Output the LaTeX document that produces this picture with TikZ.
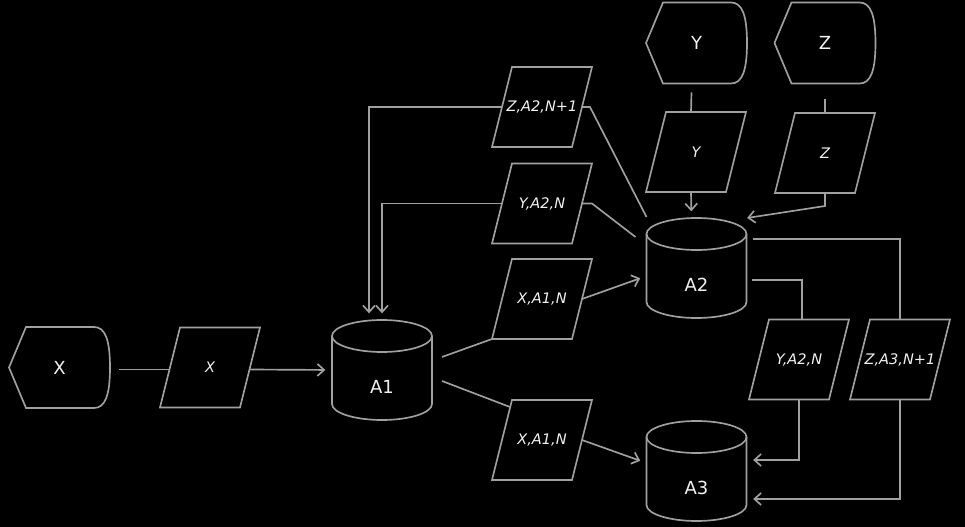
\documentclass[tikz,border=0pt]{standalone}
\usepackage{fontspec}
\setmainfont{DejaVu Sans}
\usetikzlibrary{calc,arrows.meta}
\def\px{0.75pt}
\definecolor{linegray}{HTML}{A0A0A0}
\definecolor{textwhite}{HTML}{F2F2F2}
\tikzset{
  wire/.style={draw=linegray, line width=1.25pt},
  flow/.style={wire, -{Straight Barb[length=5pt,width=9pt]}, shorten >=5pt},
  disp/.style={rectangle, minimum width=101*\px, minimum height=81*\px, inner sep=0pt, outer sep=0pt, text=textwhite, font=\fontsize{13.5}{16}\selectfont},
  datapara/.style={rectangle, minimum width=80*\px, minimum height=80*\px, inner sep=2pt, outer sep=0pt, text=textwhite, font=\fontsize{10.9}{13}\selectfont\itshape},
  store/.style={rectangle, minimum width=100*\px, minimum height=100*\px, inner sep=0pt, outer sep=0pt},
  storetext/.style={text=textwhite, font=\fontsize{13.5}{16}\selectfont, yshift=-12.75pt},
}
\def\displaynode(#1)(#2)#3{%
  \node[disp] (#2) at (#1) {#3};
  \draw[wire] (#2.west) -- ($(#2.north west)+(17,0)$) -- ($(#2.north east)+(-16,0)$) .. controls ($(#2.north east)+(-5,0)$) and ($(#2.east)+(0,-28)$) .. (#2.east) .. controls ($(#2.east)+(0,28)$) and ($(#2.south east)+(-5,0)$) .. ($(#2.south east)+(-16,0)$) -- ($(#2.south west)+(17,0)$) -- cycle;
}
\def\datanode(#1)(#2)#3{%
  \node[datapara] (#2) at (#1) {#3};
  \draw[wire] ($(#2.south west)+(-10,0)$) -- ($(#2.north west)+(10,0)$) -- ($(#2.north east)+(10,0)$) -- ($(#2.south east)+(-10,0)$) -- cycle;
}
\def\storenode(#1)(#2)#3{%
  \node[store, label={[storetext]center:#3}] (#2) at (#1) {};
  \draw[wire] ($(#2.north)+(0,16)$) ellipse [x radius=37.5pt, y radius=12pt];
  \draw[wire] ($(#2.north west)+(0,16)$) -- ($(#2.south west)+(0,-16)$) arc[start angle=180, end angle=360, x radius=37.5pt, y radius=12pt] -- ($(#2.north east)+(0,16)$);
}

\begin{document}
\begin{tikzpicture}[x=\px, y=-\px]
	%%%%% START %%%%%
	
	\fill[black] (0,0) rectangle (965,527);
	\useasboundingbox (0,0) rectangle (965,527);
	
	% sources
	\displaynode(59.5,367.5)(xd){X}
	\displaynode(696.5,43)(yd){Y}
	\displaynode(825,43)(zd){Z}
	
	% data
	\datanode(210,367.5)(xp){X}
	\datanode(696,152)(yp){Y}
	\datanode(825,153)(zp){Z}
	\datanode(542,107)(za2){Z,A2,N+1}
	\datanode(542,203.5)(ya2){Y,A2,N}
	\datanode(542,299)(xa1){X,A1,N}
	\datanode(542,440)(xa1b){X,A1,N}
	\datanode(799,359.5)(ya2r){Y,A2,N}
	\datanode(900,359.5)(za3){Z,A3,N+1}
	
	% stores
	\storenode(382,370)(a1){A1}
	\storenode(696.5,268)(a2){A2}
	\storenode(696.5,471)(a3){A3}
	
	% X
	\draw[wire] ($(xd.east)+(9,2)$) -- ($(xp.west)+(0,2)$);
	\draw[flow] ($(xp.east)+(0,2)$) -- (a1.west);
	\draw[wire] ($(a1.east)+(10,-13)$) -- ($(xa1.south west)+(-10,0)$);
	\draw[wire] ($(a1.east)+(10,11)$) -- ($(xa1b.north west)+(8,7)$);
	\draw[flow] (xa1.east) -- ($(a2.west)+(0,8)$);
	\draw[flow] (xa1b.east) -- ($(a3.west)+(0,-8)$);
	
	% back to A1
	\draw[flow] (za2.west) -| ($(a1.north)+(-13,0)$);
	\draw[flow] (ya2.west) -| (a1.north);
	\draw[wire] (za2.east) -- ++(8,0) -- ($(a2.north)+(-50,-1)$);
	\draw[wire] (ya2.east) -- ++(10,0) -- ($(a2.west)+(-11,-31)$);
	
	% Y and Z
	\draw[wire] ($(yd.south)+(-5,9)$) -- ($(yp.north)+(-5,0)$);
	\draw[flow] ($(yp.south)+(-5,0)$) -- ($(a2.north)+(-5,0)$);
	\draw[wire] ($(zd.south)+(0,16)$) -- (zp.north);
	\draw[flow] (zp.south) -- ++(0,13) -- ($(a2.north)+(44,1)$);
	
	% A2 to A3
	\draw[wire] ($(a2.east)+(5,12)$) -| ($(ya2r.north)+(3,0)$);
	\draw[wire] ($(a2.east)+(6,-29)$) -| (za3.north);
	\draw[flow] (ya2r.south) |- ($(a3.east)+(0,-11)$);
	\draw[flow] (za3.south) |- ($(a3.east)+(0,28)$);
	
	%%%%% END %%%%%
\end{tikzpicture}
\end{document}
